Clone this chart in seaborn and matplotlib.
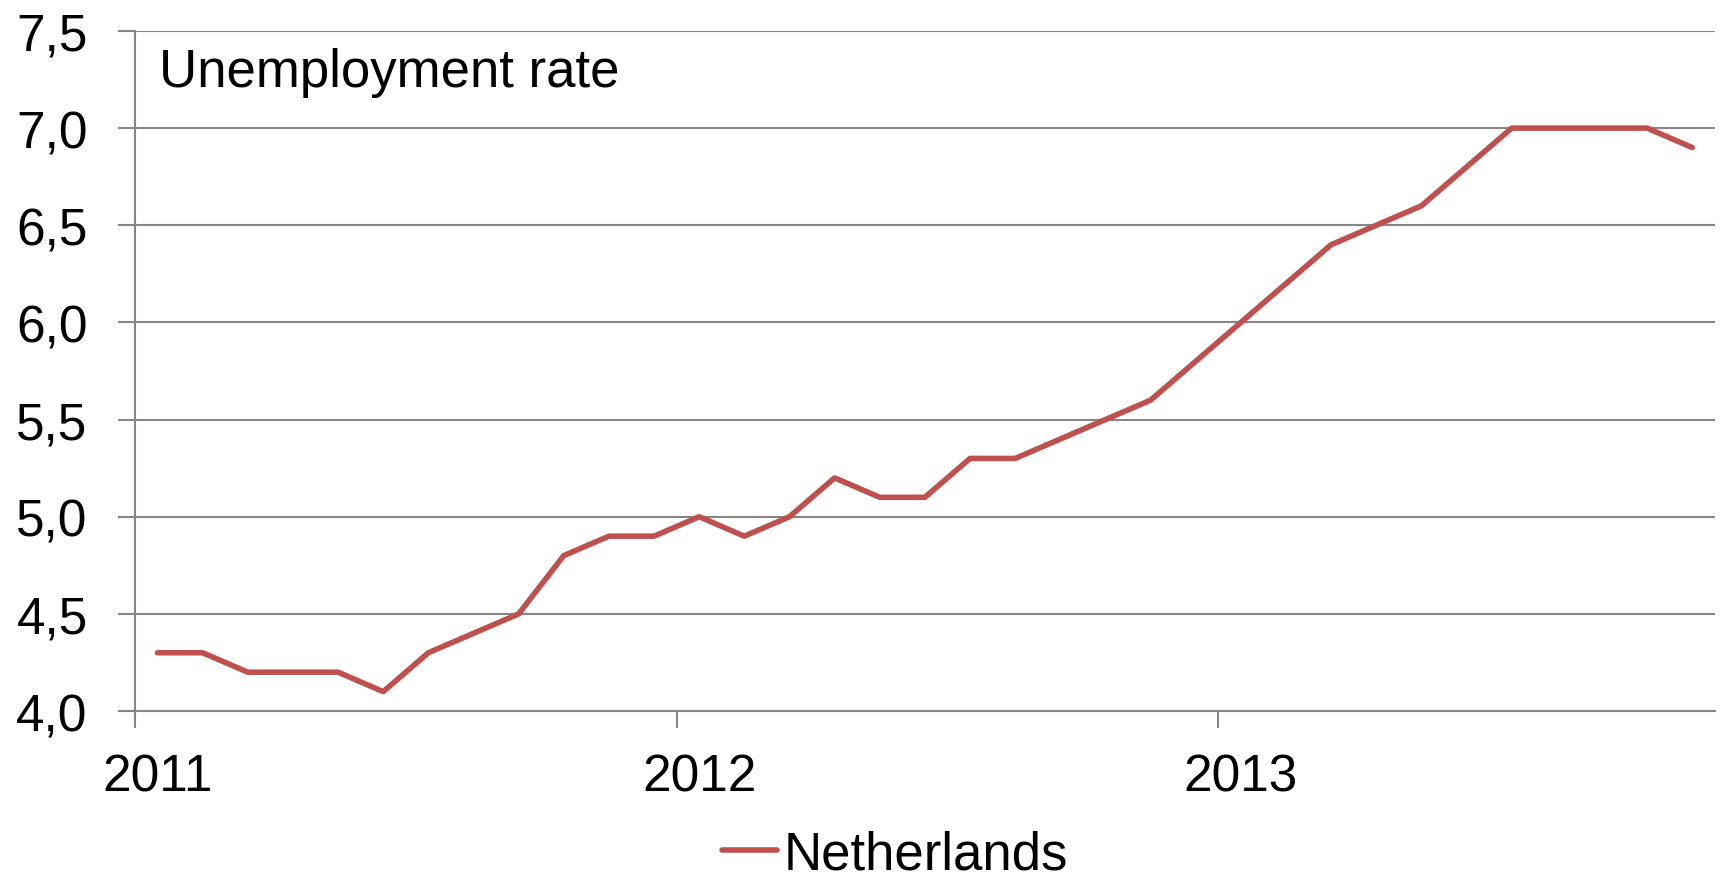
import numpy as np
import pandas as pd
import matplotlib
matplotlib.use("Agg")
import matplotlib.pyplot as plt
from matplotlib.ticker import FuncFormatter, FixedLocator
import seaborn as sns

# Monthly unemployment rate, Netherlands (%), Jan 2011 - Nov 2013
months = pd.date_range("2011-01-01", periods=35, freq="MS")
rate = [4.3, 4.3, 4.2, 4.2, 4.2, 4.1, 4.3, 4.4, 4.5, 4.8, 4.9, 4.9,
        5.0, 4.9, 5.0, 5.2, 5.1, 5.1, 5.3, 5.3, 5.4, 5.5, 5.6, 5.8,
        6.0, 6.2, 6.4, 6.5, 6.6, 6.8, 7.0, 7.0, 7.0, 7.0, 6.9]
series_name = "Netherlands"
title = "Unemployment rate"
year_labels = ["2011", "2012", "2013"]

df = pd.DataFrame({"month": months, "pos": np.arange(len(rate)), "rate": rate,
                   "country": series_name})

sns.set_style("white")
plt.rcParams["font.family"] = ["Liberation Sans", "DejaVu Sans"]
plt.rcParams["text.color"] = "black"

TICK_FS = 37
TEXT_FS = 38
fig = plt.figure(figsize=(17.21, 8.78), dpi=100)
ax = fig.add_axes([0.0784, 0.189, 0.918, 0.7746])

grid_col = "#868686"
line_col = "#C0504D"

sns.lineplot(data=df, x="pos", y="rate", hue="country", palette=[line_col],
             linewidth=4.0, ax=ax, legend=True)

ax.set_xlim(-0.5, len(rate) - 0.5)
ax.set_ylim(4.0, 7.5)

# y axis: gridlines every 0.5 with comma decimals
ax.yaxis.set_major_locator(FixedLocator(np.arange(4.0, 7.51, 0.5)))
ax.yaxis.set_major_formatter(FuncFormatter(lambda v, _: f"{v:.1f}".replace(".", ",")))
ax.grid(axis="y", color=grid_col, linewidth=1.5)
ax.set_axisbelow(True)

# x axis: year labels under the first month, ticks at year boundaries
year_starts = [i for i, m in enumerate(months) if m.month == 1]
ax.set_xticks(year_starts)
ax.set_xticklabels(year_labels)
ax.set_xticks([i - 0.5 for i in year_starts], minor=True)
ax.tick_params(axis="x", which="major", length=0, pad=30, labelsize=TICK_FS,
               labelcolor="black")
ax.tick_params(axis="x", which="minor", length=12, width=1.5, color=grid_col,
               direction="out", bottom=True)
ax.tick_params(axis="y", which="major", length=12, width=1.5, color=grid_col,
               direction="out", left=True, pad=22, labelsize=TICK_FS,
               labelcolor="black")

for side in ("top", "right"):
    ax.spines[side].set_visible(False)
for side in ("left", "bottom"):
    ax.spines[side].set_color(grid_col)
    ax.spines[side].set_linewidth(1.5)

ax.set_xlabel("")
ax.set_ylabel("")

ax.text(0.015, 0.919, title, transform=ax.transAxes, fontsize=TEXT_FS,
        ha="left", va="baseline", color="black")

handles, labels = ax.get_legend_handles_labels()
ax.legend_.remove()
leg = fig.legend(handles, labels, loc="center", bbox_to_anchor=(0.52, 0.026),
                 frameon=False, fontsize=TEXT_FS, handlelength=1.05,
                 handletextpad=0.12, borderaxespad=0)
for t in leg.get_texts():
    t.set_color("black")

fig.savefig("out.png", dpi=100)
